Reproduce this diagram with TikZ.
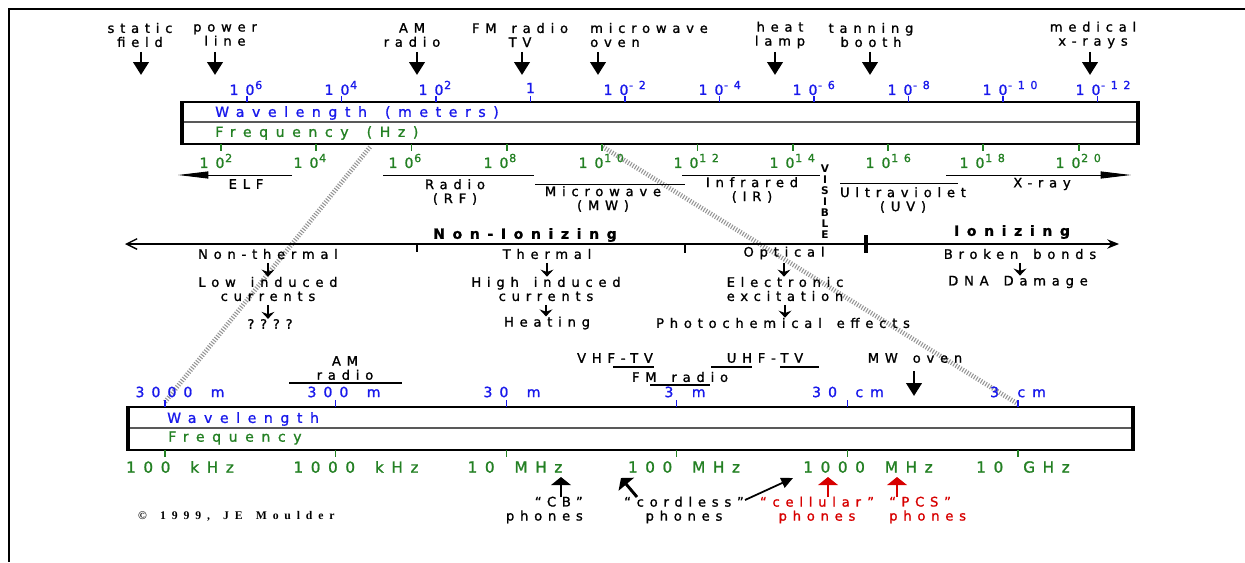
\documentclass[tikz,border=0pt]{standalone}
\usepackage{fontspec}
\usepackage{xcolor}
\usepackage{tikz}
\usetikzlibrary{arrows.meta}
\setmainfont{DejaVu Sans}
\newfontfamily\lblfont[LetterSpace=44,WordSpace=1.5,FakeBold=1.2]{DejaVu Sans}
\newfontfamily\boxfont[LetterSpace=54,WordSpace=1.5,FakeBold=1.2]{DejaVu Sans}
\newfontfamily\numfont[LetterSpace=50,WordSpace=1.6,FakeBold=1.2]{DejaVu Sans}
\newfontfamily\cpyfont[LetterSpace=50,WordSpace=1.5]{Liberation Serif}
\definecolor{wavblue}{RGB}{25,25,235}
\definecolor{freqgreen}{RGB}{35,128,35}
\definecolor{phonered}{RGB}{215,0,0}
\newcommand{\tenp}[1]{10\rlap{\kern0.05em\raisebox{0.42em}{\fontsize{9.5}{9.5}\selectfont #1}}}
\tikzset{
  lbl/.style={font=\lblfont\fontsize{11.2}{12}\selectfont, align=center, inner sep=0pt},
  boxlbl/.style={font=\boxfont\fontsize{12}{14}\selectfont, anchor=west, inner sep=0pt},
  ionlbl/.style={font=\boxfont\bfseries\fontsize{12}{14}\selectfont, inner sep=0pt},
  wnum/.style={font=\numfont\fontsize{12}{12}\selectfont, text=wavblue, inner sep=0pt},
  fnum/.style={font=\numfont\fontsize{12}{12}\selectfont, text=freqgreen, inner sep=0pt},
  lowfnum/.style={fnum, font=\numfont\fontsize{13}{13}\selectfont},
  downarr/.style={line width=2.5pt, -{Triangle[length=11pt,width=13pt]}},
  smallarr/.style={line width=1.2pt, -{Stealth[length=6pt,width=11pt,inset=2pt]}, shorten <=3pt},
  uparr/.style={line width=2.5pt, -{Triangle[length=7pt,width=17pt]}},
  bandline/.style={line width=0.8pt},
  longarr/.style={line width=0.8pt, -{Triangle[length=26pt,width=6pt]}},
  zoomline/.style={black!42, line width=4pt, dash pattern=on 0.9pt off 1.4pt},
  specbox/.style={line width=1.5pt},
}

\begin{document}
\begin{tikzpicture}[x=0.03cm,y=-0.03cm]
\useasboundingbox (0,0) rectangle (1245,562);
\draw[line width=2pt] (8,9) -- (1245,9);
\draw[line width=2pt] (9,9) -- (9,562);

\draw[zoomline] (370,147) -- (165,402);
\draw[zoomline] (603,147) -- (1018,404);

\foreach \x/\ax/\lab [count=\i] in {140/141/{static\\field}, 225/215/{power\\line}, 412/417/{AM\\radio}, 520/522/{FM radio\\TV}, 780/775/{heat\\lamp}, 871/870/{tanning\\booth}, 1093/1090/{medical\\x-rays}}{
  \node[lbl] (use\i) at (\x,35) {\lab};
  \draw[downarr] (\ax,52) -- (\ax,75);
}
\node[lbl, anchor=west, align=left] (oven) at (590,35) {microwave\\oven};
\draw[downarr] (598,52) -- (598,75);

\draw[specbox] (182,102) rectangle (1138,144);
\draw[black!65, line width=1pt] (182,122) -- (1138,122);
\draw[line width=4pt] (182,101) -- (182,145) (1138,101) -- (1138,145);
\node[boxlbl, text=wavblue] (wl) at (215,113) {Wavelength (meters)};
\node[boxlbl, text=freqgreen] (fr) at (215,133) {Frequency (Hz)};

\foreach \x/\nx/\lab [count=\i] in {247/242/\tenp{6}, 341.5/337/\tenp{4}, 436/431/\tenp{2}, 530.5/530.5/1, 625/616/\tenp{-2}, 719.5/711/\tenp{-4}, 814/805/\tenp{-6}, 908.5/900/\tenp{-8}, 1003/995/\tenp{-10}, 1097.5/1088/\tenp{-12}}{
  \draw[wavblue, line width=1pt] (\x,96) -- (\x,102);
  \node[wnum] (wt\i) at (\nx,88) {\lab};
}
\foreach \x/\nx/\lab [count=\i] in {221/212/\tenp{2}, 316/306/\tenp{4}, 411.5/401/\tenp{6}, 507/496/\tenp{8}, 602/591/\tenp{10}, 697.5/686/\tenp{12}, 793/782/\tenp{14}, 888/878/\tenp{16}, 983/972/\tenp{18}, 1079/1068/\tenp{20}}{
  \draw[freqgreen, line width=1pt] (\x,144) -- (\x,151);
  \node[fnum] (ft\i) at (\nx,161) {\lab};
}

\draw[longarr] (292,175) -- (178,175);
\node[lbl] (elf) at (246,184) {ELF};
\draw[bandline] (383,175) -- (534,175);
\node[lbl] (rf) at (455,192) {Radio\\(RF)};
\draw[bandline] (535,184) -- (685,184);
\node[lbl] (mw) at (603,199) {Microwave\\(MW)};
\draw[bandline] (682,175) -- (820,175);
\node[lbl] (ir) at (752,190) {Infrared\\(IR)};
\node[font=\bfseries\fontsize{9}{9.4}\selectfont, align=center, inner sep=0pt] (vis) at (825,202) {V\\I\\S\\I\\B\\L\\E};
\draw[bandline] (840,183) -- (958,183);
\node[lbl] (uv) at (903,200) {Ultraviolet\\(UV)};
\draw[longarr] (946,175) -- (1131,175);
\node[lbl] (xr) at (1042,184) {X-ray};

\draw[line width=1.2pt, {Straight Barb[length=9pt,width=9pt]}-{Stealth[length=10pt,width=8pt]}] (125,244) -- (1119,244);
\draw[line width=2pt] (417,244) -- (417,252) (685,244) -- (685,253);
\draw[line width=3pt] (866,235) -- (866,253);
\node[ionlbl] (nonion) at (525,235) {Non-Ionizing};
\node[ionlbl] (ion) at (1012,232) {Ionizing};

\node[lbl] (nt) at (268,254) {Non-thermal};
\node[lbl] (lic) at (268,289) {Low induced\\currents};
\node[lbl] (unk) at (270,324) {????};
\node[lbl] (th) at (547,254) {Thermal};
\node[lbl] (hic) at (546,289) {High induced\\currents};
\node[lbl] (heat) at (547,323) {Heating};
\node[lbl] (opt) at (784,253) {Optical};
\node[lbl] (ee) at (785,289) {Electronic\\excitation};
\node[lbl] (pce) at (783,323) {Photochemical effects};
\node[lbl] (bb) at (1020,254) {Broken bonds};
\node[lbl] (dna) at (1018,282) {DNA Damage};
\foreach \a/\b in {nt/lic, lic/unk, th/hic, hic/heat, opt/ee, ee/pce, bb/dna}
  \draw[smallarr] (\a.south) -- (\a.south |- \b.north);

\node[lbl] (amr) at (345,368) {AM\\radio};
\draw[line width=1.5pt] (289,383) -- (402,383);
\node[lbl] (vhf) at (615,358) {VHF-TV};
\draw[line width=1.5pt] (613,367) -- (654,367);
\node[lbl] (fmr) at (680,377) {FM radio};
\draw[line width=1.5pt] (650,385) -- (710,385);
\node[lbl] (uhf) at (765,358) {UHF-TV};
\draw[line width=1.5pt] (711,367) -- (752,367) (780,367) -- (819,367);
\node[lbl] (mwo) at (915,358) {MW oven};
\draw[downarr] (914,371) -- (914,396);

\draw[specbox] (128,407) rectangle (1133,450);
\draw[black!65, line width=1pt] (128,428) -- (1133,428);
\draw[line width=4pt] (128,406) -- (128,451) (1133,406) -- (1133,451);
\node[boxlbl, text=wavblue] (wl2) at (167,419) {Wavelength};
\node[boxlbl, text=freqgreen] (fr2) at (168,438) {Frequency};

\foreach \x/\wl/\wx/\fl/\fx [count=\i] in {165/3000 m/180/100 kHz/180, 335.6/300 m/344/1000 kHz/356, 506.2/30 m/512/10 MHz/515, 676.8/3 m/685/100 MHz/684, 847.4/30 cm/848/1000 MHz/868, 1018/3 cm/1018/10 GHz/1023}{
  \draw[wavblue, line width=1pt] (\x,400) -- (\x,407);
  \draw[freqgreen, line width=1pt] (\x,450) -- (\x,457);
  \node[wnum] (lw\i) at (\wx,392) {\wl};
  \node[lowfnum] (lf\i) at (\fx,467) {\fl};
}

\node[lbl, align=right, anchor=east] (cb) at (583,510) {“CB”\\phones};
\draw[uparr] (561,497) -- (561,477);
\node[lbl] (cdl) at (684,510) {“cordless”\\phones};
\draw[uparr] (637,497) -- (621,478);
\draw[line width=1.5pt, -{Triangle[length=10pt,width=9pt]}] (745,500) -- (793,478);
\node[lbl, text=phonered] (cel) at (817,510) {“cellular”\\phones};
\draw[uparr, phonered] (828,497) -- (828,477);
\node[lbl, text=phonered, align=left, anchor=west] (pcs) at (889,510) {“PCS”\\phones};
\draw[uparr, phonered] (897,497) -- (897,477);

\node[font=\cpyfont\bfseries\fontsize{10}{10}\selectfont, anchor=west, inner sep=0pt] (cpy) at (138,516) {© 1999, JE Moulder};
\end{tikzpicture}
\end{document}
